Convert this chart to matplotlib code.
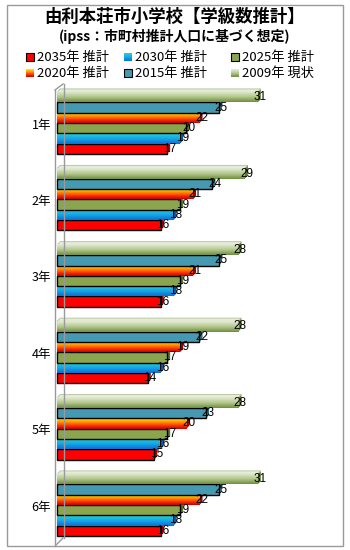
import numpy as np
import matplotlib
matplotlib.use("Agg")
import matplotlib.pyplot as plt
from matplotlib.patches import Rectangle, Polygon
from matplotlib.colors import LinearSegmentedColormap

plt.rcParams["font.family"] = ["Noto Sans CJK JP", "DejaVu Sans"]

grades = ["1年", "2年", "3年", "4年", "5年", "6年"]
# series listed top-to-bottom inside each group
series = ["2009年 現状", "2015年 推計", "2020年 推計", "2025年 推計", "2030年 推計", "2035年 推計"]
v2009 = [31, 29, 28, 28, 28, 31]
v2015 = [25, 24, 25, 22, 23, 25]
v2020 = [22, 21, 21, 19, 20, 22]
v2025 = [20, 19, 19, 17, 17, 19]
v2030 = [19, 18, 18, 16, 16, 18]
v2035 = [17, 16, 16, 14, 15, 16]
values = [v2009, v2015, v2020, v2025, v2030, v2035]

# fill: either a flat colour (with black edge) or a vertical gradient (top -> bottom)
styles = [
    {"grad": ["#e4ebd6", "#b5c98f", "#6f8f3e"], "side": "#5d7a33"},
    {"color": "#4599b0", "side": "#2f6f82"},
    {"grad": ["#ffe800", "#ff9a00", "#ff3a00", "#c80000"], "side": "#a00000"},
    {"color": "#8ba54e", "side": "#5e7430"},
    {"grad": ["#28d2d2", "#16a8e6", "#0a6fd8"], "side": "#0b58a8"},
    {"color": "#ff0000", "side": "#b00000"},
]

W, H = 350, 550
fig = plt.figure(figsize=(W / 100, H / 100), dpi=100)
fig.patch.set_facecolor("white")


def px(x, y):
    return x / W, 1 - y / H


# outer frame
fig.patches.append(Rectangle(px(7, 546), 336 / W, 541 / H, transform=fig.transFigure,
                             fill=False, edgecolor="#9a9a9a", lw=1.0))

fig.text(*px(175, 17), "由利本荘市小学校【学級数推計】", ha="center", va="center",
         fontsize=12.5, fontweight="bold")
fig.text(*px(175, 36), "(ipss：市町村推計人口に基づく想定)", ha="center", va="center",
         fontsize=10, fontweight="bold")

# legend, laid out in two rows of three
legend_order = [5, 4, 3, 2, 1, 0]
col_x = [30, 128, 235]
row_y = [57, 73]
for n, k in enumerate(legend_order):
    cx = col_x[n % 3]
    cy = row_y[n // 3]
    st = styles[k]
    if "grad" in st:
        lax = fig.add_axes([(cx - 4) / W, 1 - (cy + 4) / H, 8 / W, 8 / H])
        cmap = LinearSegmentedColormap.from_list("g", st["grad"])
        lax.imshow(np.linspace(0, 1, 20).reshape(-1, 1), cmap=cmap, aspect="auto")
        lax.axis("off")
    else:
        fig.patches.append(Rectangle(px(cx - 4, cy + 4), 8 / W, 8 / H, transform=fig.transFigure,
                                     facecolor=st["color"], edgecolor="black", lw=0.8))
    fig.text(*px(cx + 7, cy), series[k], ha="left", va="center", fontsize=9.5)

# plot area
ax_l, ax_r, ax_t, ax_b = 55, 343, 84, 546
ax = fig.add_axes([ax_l / W, 1 - ax_b / H, (ax_r - ax_l) / W, (ax_b - ax_t) / H])
ppu = 6.47          # pixels per unit
gpitch = 76.4       # pixels per group
c0 = 123            # pixel y of first group centre
x0 = ax_l + 2
ax.axis("off")

bh = 10.3 / gpitch
dx = 3.2 / ppu
dy = 3.2 / gpitch

z = 2
for g in range(len(grades)):
    for k in reversed(range(len(series))):
        v = values[k][g]
        st = styles[k]
        yc = g + (k - 2.5) * bh
        top, bot = yc - bh / 2, yc + bh / 2
        # depth faces
        side = Polygon([(v, bot), (v, top), (v + dx, top - dy), (v + dx, bot - dy)],
                       closed=True, facecolor=st["side"], edgecolor="none", zorder=z)
        ax.add_patch(side)
        if k == 0:
            topc = st["grad"][0] if "grad" in st else st["color"]
            ax.add_patch(Polygon([(0, top), (v, top), (v + dx, top - dy), (dx, top - dy)],
                                 closed=True, facecolor=topc, edgecolor="#a9b98a",
                                 lw=0.5, zorder=z))
        z += 1
        if "grad" in st:
            cmap = LinearSegmentedColormap.from_list("g%d" % k, st["grad"])
            ax.imshow(np.linspace(0, 1, 30).reshape(-1, 1), cmap=cmap, aspect="auto",
                      extent=(0, v, bot, top), zorder=z, interpolation="bilinear")
        else:
            ax.add_patch(Rectangle((0, top), v, bh, facecolor=st["color"],
                                   edgecolor="black", lw=1.0, zorder=z))
        z += 1
        ax.text(v + 0.35, yc, str(v), ha="center", va="center", fontsize=8.5,
                family="Liberation Sans", color="black", zorder=200)

ax.set_xlim((ax_l - x0) / ppu, (ax_r - x0) / ppu)
ax.set_ylim((ax_b - c0) / gpitch, (ax_t - c0) / gpitch)

# walls of the 3-D frame
wall = "#9a9a9a"
fig.lines.append(plt.Line2D([55 / W, 55 / W], [1 - 546 / H, 1 - 90 / H],
                            transform=fig.transFigure, color=wall, lw=1))
fig.lines.append(plt.Line2D([55 / W, 63 / W], [1 - 90 / H, 1 - 84 / H],
                            transform=fig.transFigure, color=wall, lw=1))
fig.lines.append(plt.Line2D([64 / W, 64 / W], [1 - 538 / H, 1 - 84 / H],
                            transform=fig.transFigure, color=wall, lw=1))
fig.lines.append(plt.Line2D([56 / W, 63 / W], [1 - 545 / H, 1 - 538 / H],
                            transform=fig.transFigure, color=wall, lw=1))

for g, name in enumerate(grades):
    fig.text(51 / W, 1 - (c0 + 2 + g * gpitch) / H, name, ha="right", va="center", fontsize=9)

fig.savefig("out.png", dpi=100)
